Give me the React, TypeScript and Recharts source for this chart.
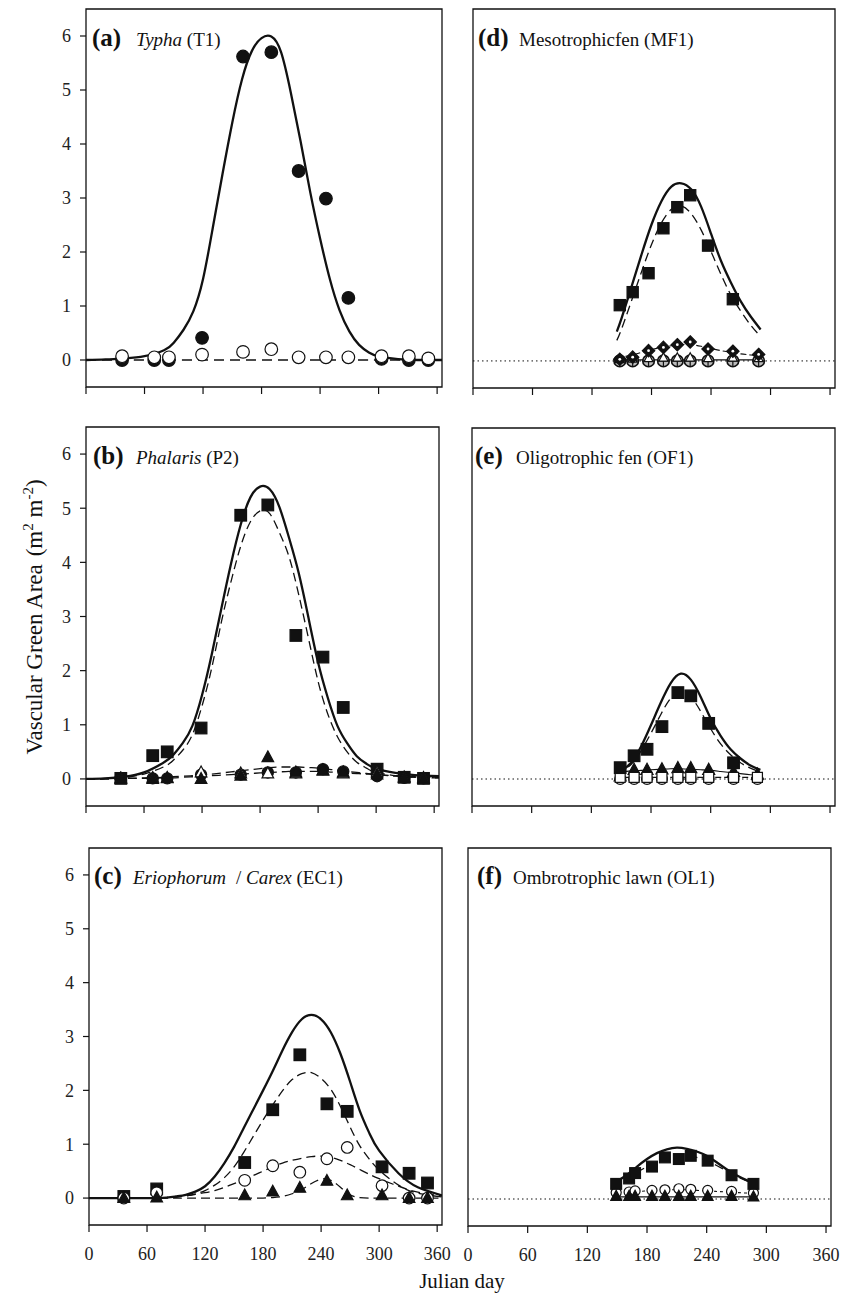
import React from "react";
import { ComposedChart, Line, Scatter, XAxis, YAxis, ReferenceArea, ReferenceLine } from "recharts";

const FONT = '"Liberation Serif", "Times New Roman", serif';

const xTicks = [0, 60, 120, 180, 240, 300, 360];
const yTicks = [0, 1, 2, 3, 4, 5, 6];

const fitDaysLong = [0, 20, 40, 60, 80, 90, 100, 110, 120, 130, 140, 150, 160, 170, 180, 190, 200, 210, 220, 230, 240, 250, 260, 270, 280, 290, 300, 320, 340, 365];
const fitDaysShort = [145, 150, 160, 170, 180, 190, 200, 210, 220, 230, 240, 250, 260, 270, 280, 290];

// (a) Typha
const aDays = [37, 70, 85, 119, 161, 190, 218, 246, 269, 303, 331, 351];
const aTypha = [0, 0, 0, 0.41, 5.62, 5.7, 3.5, 2.99, 1.15, 0.02, 0, 0];
const aOther = [0.07, 0.05, 0.05, 0.1, 0.15, 0.2, 0.05, 0.05, 0.05, 0.07, 0.07, 0.03];
const aFitTotal = [0, 0.01, 0.03, 0.07, 0.18, 0.32, 0.56, 0.9, 1.5, 2.45, 3.45, 4.4, 5.2, 5.72, 5.96, 5.99, 5.7, 4.95, 4.05, 3.1, 2.25, 1.5, 0.92, 0.53, 0.28, 0.14, 0.07, 0.015, 0, 0];
const aFitOther = [0, 0, 0, 0, 0, 0, 0, 0, 0, 0, 0, 0, 0, 0, 0, 0, 0, 0, 0, 0, 0, 0, 0, 0, 0, 0, 0, 0, 0, 0];

// (b) Phalaris
const bDays = [36, 69, 84, 119, 160, 188, 217, 245, 266, 301, 329, 349];
const bSquare = [0.01, 0.43, 0.5, 0.94, 4.87, 5.06, 2.65, 2.25, 1.32, 0.18, 0.03, 0.01];
const bCircle = [0.02, 0.01, 0.01, 0.08, 0.08, 0.12, 0.12, 0.18, 0.14, 0.05, 0.02, 0.01];
const bOpenTri = [0.01, 0.02, 0.02, 0.12, 0.1, 0.1, 0.1, 0.15, 0.1, 0.12, 0.03, 0.02];
const bTriangle = [0, 0, 0.01, 0, 0.06, 0.4, 0.12, 0.16, 0.12, 0.08, 0.02, 0];
const bFitTotal = [0, 0.01, 0.04, 0.12, 0.3, 0.44, 0.66, 0.98, 1.55, 2.3, 3.15, 3.98, 4.7, 5.2, 5.4, 5.35, 5.02, 4.45, 3.8, 2.98, 2.15, 1.5, 0.98, 0.66, 0.42, 0.28, 0.19, 0.11, 0.07, 0.05];
const bFitSquare = [0, 0.01, 0.03, 0.09, 0.22, 0.34, 0.53, 0.82, 1.35, 2.05, 2.9, 3.65, 4.3, 4.75, 4.95, 4.9, 4.55, 4.1, 3.4, 2.6, 1.8, 1.2, 0.78, 0.5, 0.31, 0.2, 0.12, 0.06, 0.03, 0.02];
const bFitCircle = [0, 0, 0.01, 0.02, 0.03, 0.04, 0.05, 0.06, 0.07, 0.09, 0.11, 0.13, 0.15, 0.17, 0.19, 0.21, 0.22, 0.22, 0.22, 0.21, 0.2, 0.18, 0.16, 0.14, 0.12, 0.1, 0.08, 0.05, 0.03, 0.02];
const bFitTriangle = [0, 0, 0.01, 0.01, 0.02, 0.02, 0.03, 0.04, 0.05, 0.06, 0.07, 0.08, 0.09, 0.1, 0.11, 0.12, 0.13, 0.14, 0.14, 0.14, 0.14, 0.13, 0.12, 0.11, 0.1, 0.09, 0.08, 0.06, 0.04, 0.03];

// (c) Eriophorum / Carex
const cDays = [36, 70, 161, 190, 218, 246, 267, 303, 331, 350];
const cSquare = [0.03, 0.17, 0.66, 1.64, 2.66, 1.75, 1.61, 0.58, 0.46, 0.28];
const cCircle = [0, 0.1, 0.33, 0.6, 0.48, 0.73, 0.94, 0.23, 0, 0];
const cTriangle = [0, 0.01, 0.05, 0.12, 0.19, 0.32, 0.05, 0.05, 0, 0];
const cFitTotal = [0, 0, 0, 0, 0.01, 0.03, 0.06, 0.12, 0.22, 0.4, 0.65, 0.95, 1.3, 1.65, 2.0, 2.36, 2.74, 3.08, 3.32, 3.4, 3.32, 3.08, 2.68, 2.16, 1.62, 1.2, 0.88, 0.46, 0.2, 0.05];
const cFitSquare = [0, 0, 0, 0, 0.01, 0.02, 0.04, 0.08, 0.14, 0.24, 0.38, 0.58, 0.85, 1.15, 1.45, 1.73, 1.99, 2.2, 2.31, 2.33, 2.22, 2.02, 1.7, 1.32, 0.97, 0.72, 0.52, 0.24, 0.09, 0.02];
const cFitCircle = [0, 0, 0, 0, 0.01, 0.02, 0.04, 0.07, 0.1, 0.14, 0.2, 0.27, 0.34, 0.42, 0.5, 0.58, 0.65, 0.7, 0.74, 0.77, 0.78, 0.76, 0.7, 0.62, 0.53, 0.44, 0.36, 0.22, 0.11, 0.04];
const cFitTriangle = [0, 0, 0, 0, 0, 0, 0, 0, 0, 0, 0, 0, 0, 0, 0, 0.01, 0.03, 0.08, 0.16, 0.27, 0.35, 0.33, 0.2, 0.06, 0.01, 0, 0, 0, 0, 0];

// (d) Mesotrophic fen
const dDays = [148, 161, 177, 192, 206, 219, 237, 262, 288];
const dSquare = [1.03, 1.27, 1.62, 2.45, 2.84, 3.06, 2.13, 1.14, null];
const dDiamond = [0.03, 0.07, 0.19, 0.25, 0.3, 0.35, 0.22, 0.18, 0.12];
const dOpenTri = [0.03, 0.04, 0.05, 0.06, 0.06, 0.06, 0.05, 0.06, 0.05];
const dCross = [0, 0, 0, 0, 0, 0, 0, 0, 0];
const dFitTotal = [0.54, 0.8, 1.38, 1.97, 2.52, 2.95, 3.22, 3.28, 3.17, 2.85, 2.35, 1.85, 1.45, 1.1, 0.82, 0.58];
const dFitSquare = [0.38, 0.6, 1.12, 1.65, 2.15, 2.55, 2.8, 2.86, 2.72, 2.42, 2.02, 1.6, 1.22, 0.92, 0.66, 0.45];
const dFitDiamond = [0.05, 0.07, 0.11, 0.16, 0.21, 0.25, 0.28, 0.3, 0.3, 0.27, 0.23, 0.19, 0.16, 0.13, 0.11, 0.09];
const dFitLow = [0.02, 0.02, 0.02, 0.02, 0.02, 0.02, 0.02, 0.02, 0.02, 0.02, 0.02, 0.02, 0.02, 0.02, 0.02, 0.02];

// (e) Oligotrophic fen
const eDays = [149, 163, 176, 191, 207, 220, 238, 263, 287];
const eSquare = [0.21, 0.43, 0.55, 0.97, 1.6, 1.54, 1.03, 0.3, null];
const eTriangle = [0.05, 0.17, 0.17, 0.18, 0.2, 0.2, 0.17, 0.13, 0.08];
const eOpenCircle = [0, 0, 0, 0, 0, 0, 0, 0, 0];
const eOpenSquare = [0.03, 0.03, 0.03, 0.03, 0.03, 0.03, 0.03, 0.03, 0.03];
const eFitTotal = [0.1, 0.15, 0.3, 0.6, 1.0, 1.42, 1.78, 1.95, 1.84, 1.52, 1.12, 0.8, 0.55, 0.38, 0.25, 0.17];
const eFitSquare = [0.1, 0.14, 0.27, 0.52, 0.85, 1.2, 1.5, 1.6, 1.52, 1.25, 0.93, 0.65, 0.45, 0.3, 0.2, 0.13];
const eFitTriangle = [0.1, 0.12, 0.15, 0.16, 0.17, 0.18, 0.19, 0.19, 0.18, 0.17, 0.16, 0.14, 0.12, 0.1, 0.08, 0.07];
const eFitLow = [0.03, 0.03, 0.03, 0.03, 0.03, 0.03, 0.03, 0.03, 0.03, 0.03, 0.03, 0.03, 0.03, 0.03, 0.03, 0.03];

// (f) Ombrotrophic lawn
const fDays = [149, 162, 168, 185, 198, 212, 224, 241, 265, 287];
const fSquare = [0.28, 0.38, 0.48, 0.6, 0.77, 0.74, 0.8, 0.71, 0.44, 0.28];
const fCircle = [0.12, 0.13, 0.15, 0.16, 0.17, 0.19, 0.18, 0.16, 0.14, 0.11];
const fTriangle = [0.05, 0.05, 0.05, 0.05, 0.05, 0.05, 0.05, 0.05, 0.05, 0.04];
const fFitTotal = [0.27, 0.33, 0.45, 0.6, 0.74, 0.85, 0.92, 0.95, 0.93, 0.88, 0.8, 0.68, 0.55, 0.44, 0.35, 0.28];
const fFitSquare = [0.22, 0.27, 0.37, 0.49, 0.6, 0.69, 0.76, 0.8, 0.8, 0.77, 0.71, 0.62, 0.52, 0.42, 0.34, 0.26];
const fFitCircle = [0.1, 0.11, 0.13, 0.14, 0.15, 0.16, 0.17, 0.17, 0.17, 0.16, 0.15, 0.14, 0.13, 0.12, 0.11, 0.1];
const fFitTriangle = [0.04, 0.04, 0.04, 0.04, 0.04, 0.04, 0.04, 0.04, 0.04, 0.04, 0.04, 0.04, 0.04, 0.04, 0.04, 0.04];

type Pt = { d: number; v: number };
type Kind = "circle" | "square" | "triangle" | "diamond" | "cross";

const pts = (days: number[], vals: (number | null)[]): Pt[] =>
  days.flatMap((d, i) => (vals[i] == null ? [] : [{ d, v: vals[i] as number }]));

function markShape(kind: Kind, filled: boolean, s: number) {
  return (props: any) => {
    const { cx, cy } = props;
    if (typeof cx !== "number" || typeof cy !== "number") return <g />;
    const st = { fill: filled ? "#111" : "#fff", stroke: "#111", strokeWidth: 1.2 };
    if (kind === "circle") return <circle cx={cx} cy={cy} r={s} {...st} />;
    if (kind === "square") return <rect x={cx - s} y={cy - s} width={2 * s} height={2 * s} {...st} />;
    if (kind === "triangle")
      return <polygon points={`${cx},${cy - s * 1.1} ${cx + s},${cy + s * 0.75} ${cx - s},${cy + s * 0.75}`} {...st} />;
    if (kind === "diamond")
      return (
        <g>
          <polygon points={`${cx},${cy - s} ${cx + s},${cy} ${cx},${cy + s} ${cx - s},${cy}`} {...st} />
          <circle cx={cx} cy={cy} r={1.4} fill="#fff" />
        </g>
      );
    return (
      <g>
        <circle cx={cx} cy={cy} r={s} fill="#bbb" stroke="#111" strokeWidth={1.6} />
        <line x1={cx - s} y1={cy} x2={cx + s} y2={cy} stroke="#111" strokeWidth={1.2} />
        <line x1={cx} y1={cy - s} x2={cx} y2={cy + s} stroke="#111" strokeWidth={1.2} />
      </g>
    );
  };
}

interface CurveSpec { data: Pt[]; width: number; dash?: string }
interface MarkSpec { data: Pt[]; kind: Kind; filled: boolean; size: number }
interface PanelSpec {
  left: number; top: number; right: number; bottom: number;
  yLabels: boolean; xLabels: boolean; zeroLine: boolean;
  curves: CurveSpec[]; marks: MarkSpec[];
}

const SOLID = 2.3;
const DASH = "9 5";

const panels: PanelSpec[] = [
  {
    left: 86, top: 9, right: 442, bottom: 387, yLabels: true, xLabels: false, zeroLine: false,
    curves: [
      { data: pts(fitDaysLong, aFitOther), width: 1.4, dash: "10 6" },
      { data: pts(fitDaysLong, aFitTotal), width: SOLID },
    ],
    marks: [
      { data: pts(aDays, aTypha), kind: "circle", filled: true, size: 6.3 },
      { data: pts(aDays, aOther), kind: "circle", filled: false, size: 6.3 },
    ],
  },
  {
    left: 86, top: 427, right: 439, bottom: 806, yLabels: true, xLabels: false, zeroLine: false,
    curves: [
      { data: pts(fitDaysLong, bFitTriangle), width: 1.3, dash: DASH },
      { data: pts(fitDaysLong, bFitCircle), width: 1.3, dash: DASH },
      { data: pts(fitDaysLong, bFitSquare), width: 1.3, dash: DASH },
      { data: pts(fitDaysLong, bFitTotal), width: SOLID },
    ],
    marks: [
      { data: pts(bDays, bSquare), kind: "square", filled: true, size: 5.8 },
      { data: pts(bDays, bCircle), kind: "circle", filled: true, size: 5.6 },
      { data: pts(bDays, bOpenTri), kind: "triangle", filled: false, size: 5.8 },
      { data: pts(bDays, bTriangle), kind: "triangle", filled: true, size: 5.8 },
    ],
  },
  {
    left: 89, top: 848, right: 442, bottom: 1225, yLabels: true, xLabels: true, zeroLine: false,
    curves: [
      { data: pts(fitDaysLong, cFitTriangle), width: 1.3, dash: DASH },
      { data: pts(fitDaysLong, cFitCircle), width: 1.3, dash: DASH },
      { data: pts(fitDaysLong, cFitSquare), width: 1.3, dash: DASH },
      { data: pts(fitDaysLong, cFitTotal), width: SOLID },
    ],
    marks: [
      { data: pts(cDays, cSquare), kind: "square", filled: true, size: 5.8 },
      { data: pts(cDays, cCircle), kind: "circle", filled: false, size: 5.8 },
      { data: pts(cDays, cTriangle), kind: "triangle", filled: true, size: 5.8 },
    ],
  },
  {
    left: 473, top: 9, right: 835, bottom: 388, yLabels: false, xLabels: false, zeroLine: true,
    curves: [
      { data: pts(fitDaysShort, dFitLow), width: 1.1 },
      { data: pts(fitDaysShort, dFitDiamond), width: 1.1, dash: "6 3" },
      { data: pts(fitDaysShort, dFitSquare), width: 1.3, dash: DASH },
      { data: pts(fitDaysShort, dFitTotal), width: SOLID },
    ],
    marks: [
      { data: pts(dDays, dCross), kind: "cross", filled: false, size: 5.8 },
      { data: pts(dDays, dOpenTri), kind: "triangle", filled: false, size: 4.5 },
      { data: pts(dDays, dDiamond), kind: "diamond", filled: true, size: 6.2 },
      { data: pts(dDays, dSquare), kind: "square", filled: true, size: 5.6 },
    ],
  },
  {
    left: 472, top: 428, right: 835, bottom: 806, yLabels: false, xLabels: false, zeroLine: true,
    curves: [
      { data: pts(fitDaysShort, eFitLow), width: 1.1, dash: "6 3" },
      { data: pts(fitDaysShort, eFitTriangle), width: 1.1 },
      { data: pts(fitDaysShort, eFitSquare), width: 1.3, dash: DASH },
      { data: pts(fitDaysShort, eFitTotal), width: SOLID },
    ],
    marks: [
      { data: pts(eDays, eTriangle), kind: "triangle", filled: true, size: 6 },
      { data: pts(eDays, eOpenCircle), kind: "circle", filled: false, size: 5.4 },
      { data: pts(eDays, eOpenSquare), kind: "square", filled: false, size: 5 },
      { data: pts(eDays, eSquare), kind: "square", filled: true, size: 5.8 },
    ],
  },
  {
    left: 468, top: 848, right: 831, bottom: 1226, yLabels: false, xLabels: true, zeroLine: true,
    curves: [
      { data: pts(fitDaysShort, fFitTriangle), width: 1.1 },
      { data: pts(fitDaysShort, fFitCircle), width: 1.1, dash: "3 3" },
      { data: pts(fitDaysShort, fFitSquare), width: 1.3, dash: DASH },
      { data: pts(fitDaysShort, fFitTotal), width: SOLID },
    ],
    marks: [
      { data: pts(fDays, fCircle), kind: "circle", filled: false, size: 5 },
      { data: pts(fDays, fTriangle), kind: "triangle", filled: true, size: 5.4 },
      { data: pts(fDays, fSquare), kind: "square", filled: true, size: 5.4 },
    ],
  },
];

const tickStyle = { fontFamily: FONT, fontSize: 18, fill: "#222" };

function Panel({ p }: { p: PanelSpec }) {
  const w = p.right - p.left;
  const h = p.bottom - p.top;
  return (
    <div style={{ position: "absolute", left: p.left - 40, top: p.top - 5 }}>
      <ComposedChart width={w + 55} height={h + 45} margin={{ top: 5, right: 15, bottom: 0, left: 0 }}>
        <XAxis
          type="number"
          dataKey="d"
          domain={[0, 365]}
          ticks={xTicks}
          interval={0}
          allowDataOverflow
          axisLine={false}
          tickLine={{ stroke: "#111", strokeWidth: 1.2 }}
          tickSize={7}
          tickMargin={15}
          height={40}
          tick={tickStyle}
          tickFormatter={(v: number) => (p.xLabels ? String(v) : "")}
        />
        <YAxis
          type="number"
          dataKey="v"
          domain={[-0.5, 6.5]}
          ticks={yTicks}
          interval={0}
          allowDataOverflow
          axisLine={false}
          tickLine={p.yLabels ? { stroke: "#111", strokeWidth: 1.2 } : false}
          tickSize={6}
          tickMargin={9}
          width={40}
          tick={p.yLabels ? tickStyle : false}
        />
        <ReferenceArea x1={0} x2={365} y1={-0.5} y2={6.5} fill="none" stroke="#111" strokeWidth={1.3} ifOverflow="visible" />
        {p.zeroLine && <ReferenceLine y={0} stroke="#111" strokeWidth={1} strokeDasharray="1.5 3" />}
        {p.curves.map((c, i) => (
          <Line
            key={"c" + i}
            data={c.data}
            dataKey="v"
            type="natural"
            stroke="#111"
            strokeWidth={c.width}
            strokeDasharray={c.dash}
            dot={false}
            activeDot={false}
            legendType="none"
            isAnimationActive={false}
          />
        ))}
        {p.marks.map((m, i) => (
          <Scatter
            key={"m" + i}
            data={m.data}
            shape={markShape(m.kind, m.filled, m.size)}
            legendType="none"
            isAnimationActive={false}
          />
        ))}
      </ComposedChart>
    </div>
  );
}

const titleRows = [46, 464, 884];

export default function App() {
  const t = { fontFamily: FONT, fontSize: 19, fill: "#111" };
  const b = { fontWeight: 700, fontSize: 25 };
  return (
    <div style={{ position: "absolute", left: 0, top: 0, width: 848, height: 1295, background: "#fff" }}>
      {panels.map((p, i) => (
        <Panel key={i} p={p} />
      ))}
      <svg width={848} height={1295} style={{ position: "absolute", left: 0, top: 0, pointerEvents: "none" }}>
        <text x={92} y={titleRows[0]} {...t}>
          <tspan {...b}>(a)</tspan>
          <tspan x={136} fontStyle="italic">Typha</tspan>
          <tspan> (T1)</tspan>
        </text>
        <text x={93} y={titleRows[1]} {...t}>
          <tspan {...b}>(b)</tspan>
          <tspan x={136} fontStyle="italic">Phalaris</tspan>
          <tspan> (P2)</tspan>
        </text>
        <text x={94} y={titleRows[2]} {...t}>
          <tspan {...b}>(c)</tspan>
          <tspan x={133} fontStyle="italic">Eriophorum</tspan>
          <tspan x={236}>/ </tspan>
          <tspan fontStyle="italic">Carex</tspan>
          <tspan> (EC1)</tspan>
        </text>
        <text x={478} y={titleRows[0]} {...t}>
          <tspan {...b}>(d)</tspan>
          <tspan x={519}>Mesotrophicfen (MF1)</tspan>
        </text>
        <text x={475} y={titleRows[1]} {...t}>
          <tspan {...b}>(e)</tspan>
          <tspan x={516}>Oligotrophic fen (OF1)</tspan>
        </text>
        <text x={477} y={titleRows[2]} {...t}>
          <tspan {...b}>(f)</tspan>
          <tspan x={513}>Ombrotrophic lawn (OL1)</tspan>
        </text>
        <text transform="translate(42,617) rotate(-90)" textAnchor="middle" fontFamily={FONT} fontSize={23} fill="#111">
          Vascular Green Area
          <tspan dx={8}>(m</tspan>
          <tspan dy={-9} fontSize={15}>2</tspan>
          <tspan dy={9}> m</tspan>
          <tspan dy={-9} fontSize={15}>-2</tspan>
          <tspan dy={9}>)</tspan>
        </text>
        <text x={462} y={1288} textAnchor="middle" fontFamily={FONT} fontSize={21} fill="#111">
          Julian day
        </text>
      </svg>
    </div>
  );
}
